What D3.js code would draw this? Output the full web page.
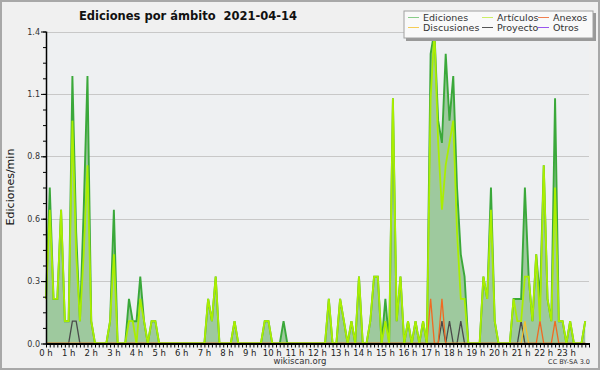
<!DOCTYPE html>
<html><head><meta charset="utf-8">
<script src="https://cdn.jsdelivr.net/npm/d3@7"></script>
<style>
body{margin:0;background:#f0f0f0}
svg{display:block}
text{font-family:"DejaVu Sans",sans-serif}
</style>
</head><body>
<svg id="c" width="600" height="370"></svg>
<script>
// ---- data (10-minute bins, 0:00 .. 23:50) ----
const chartTitle = "Ediciones por ámbito  2021-04-14";
const yTitle = "Ediciones/min";
const hourLabels = d3.range(24).map(h => h + " h");
const yTickValues = [0, 0.28, 0.56, 0.84, 1.12, 1.4];
const seriesNames = ["Ediciones", "Artículos", "Anexos", "Discusiones", "Proyecto", "Otros"];

const ediciones = [
  0.2,0.7,0.2,0.2,0.6,0.1,0.1,1.2,0.5,0.1,0.6,1.2,
  0.1,0,0,0,0,0.1,0.6,0,0,0,0.2,0.1,
  0.1,0.3,0.1,0,0.1,0.1,0,0,0,0,0,0,
  0,0,0,0,0,0,0,0.2,0.1,0.3,0,0,
  0,0,0.1,0,0,0,0,0,0,0,0.1,0.1,
  0,0,0,0.1,0,0,0,0,0,0,0,0,
  0,0,0,0.2,0,0,0.2,0.1,0,0.1,0,0.3,
  0,0,0.1,0.3,0.3,0,0.2,0,1.1,0.1,0.3,0,
  0.1,0,0.1,0,0.1,0,1.3,1.4,1.0,0.9,1.3,1.0,
  1.2,0.7,0.4,0.3,0,0,0,0,0.3,0.2,0.7,0.1,
  0,0,0,0,0.2,0.2,0.2,0.7,0.3,0.1,0.4,0.2,
  0.8,0.2,0.1,1.1,0.1,0.1,0,0.1,0,0,0,0.1
];
const articulos = [
  0.2,0.6,0.2,0.2,0.6,0.1,0.1,1.0,0.4,0.1,0.4,0.8,
  0.1,0,0,0,0,0.1,0.4,0,0,0,0.1,0.1,
  0,0.2,0.1,0,0.1,0.1,0,0,0,0,0,0,
  0,0,0,0,0,0,0,0.2,0.1,0.3,0,0,
  0,0,0.1,0,0,0,0,0,0,0,0.1,0.1,
  0,0,0,0,0,0,0,0,0,0,0,0,
  0,0,0,0.2,0,0,0.2,0.1,0,0.1,0,0.3,
  0,0,0.1,0.3,0.3,0,0.1,0,1.1,0.1,0.3,0,
  0.1,0,0.1,0,0.1,0,1.1,1.4,0.9,0.6,0.8,0.9,
  1.0,0.5,0.2,0.2,0,0,0,0,0.3,0.2,0.6,0.1,
  0,0,0,0,0.2,0.1,0.1,0.3,0.3,0.1,0.4,0.1,
  0.8,0.2,0.1,0.7,0.1,0.1,0,0.1,0,0,0,0.1
];
const anexos = [
  0,0,0,0,0,0,0,0,0,0,0,0,  0,0,0,0,0,0,0,0,0,0,0,0,
  0,0,0,0,0,0,0,0,0,0,0,0,  0,0,0,0,0,0,0,0,0,0,0,0,
  0,0,0,0,0,0,0,0,0,0,0,0,  0,0,0,0,0,0,0,0,0,0,0,0,
  0,0,0,0,0,0,0,0,0,0,0,0,  0,0,0,0,0,0,0,0,0,0,0,0,
  0,0,0,0,0,0,0.2,0,0,0.2,0,0,  0,0,0,0,0,0,0,0,0,0,0,0,
  0,0,0,0,0,0,0,0,0,0,0,0.1,  0,0,0,0.1,0,0,0,0,0,0,0,0
];
const discusiones = [
  0,0,0,0,0,0,0,0,0,0,0,0,  0,0,0,0,0,0,0,0,0,0,0,0,
  0,0,0,0,0,0,0,0,0,0,0,0,  0,0,0,0,0,0,0,0,0,0,0,0,
  0,0,0,0,0,0,0,0,0,0,0,0,  0,0,0,0,0,0,0,0,0,0,0,0,
  0,0,0,0,0,0,0,0,0,0,0,0,  0,0,0,0,0,0,0,0,0,0,0,0,
  0,0,0,0,0,0,0,0,0,0,0,0,  0,0,0,0,0,0,0,0,0,0,0,0,
  0,0,0,0,0,0,0,0.1,0,0,0,0,  0,0,0,0,0,0,0,0,0,0,0,0
];
const proyecto = [
  0,0,0,0,0,0,0,0.1,0.1,0,0,0,  0,0,0,0,0,0,0,0,0,0,0,0,
  0,0,0,0,0,0,0,0,0,0,0,0,  0,0,0,0,0,0,0,0,0,0,0,0,
  0,0,0,0,0,0,0,0,0,0,0,0,  0,0,0,0,0,0,0,0,0,0,0,0,
  0,0,0,0,0,0,0,0,0,0,0,0,  0,0,0,0,0,0,0,0,0,0,0,0,
  0,0,0,0,0,0,0,0,0,0.1,0,0.1,  0,0,0.1,0,0,0,0,0,0,0,0,0,
  0,0,0,0,0,0,0.1,0,0,0,0,0,  0,0,0,0,0,0,0,0,0,0,0,0
];
const otros = d3.range(144).map(() => 0);

// ---- styles ----
const colors = {
  Ediciones: "#3aa83a", "Artículos": "#aaee00", Anexos: "#f06a22",
  Discusiones: "#f2c230", Proyecto: "#4a4a4a", Otros: "#8a44e8"
};
const legendColors = {
  Ediciones: "#88cc88", "Artículos": "#ccee66", Anexos: "#f08050",
  Discusiones: "#f5cc55", Proyecto: "#555555", Otros: "#9955ee"
};

const svg = d3.select("#c");
const W = 600, H = 370;
const x0 = 46, x1 = 589, yTop = 31.5, yBot = 343.5;

svg.append("rect").attr("x",1).attr("y",1).attr("width",W-2).attr("height",H-2)
  .attr("fill","#f0f0f0").attr("stroke","#a8a8a8").attr("stroke-width",2);

const x = d3.scaleLinear().domain([0, 24]).range([x0, x1]);
const y = d3.scaleLinear().domain([0, 1.4]).range([yBot, yTop]);
const tx = i => x(i / 6);

// plot area
svg.append("rect").attr("x",x0).attr("y",yTop).attr("width",x1-x0).attr("height",yBot-yTop)
  .attr("fill","#eef0f2");

// grid
svg.append("g").selectAll("line").data(yTickValues.slice(1)).join("line")
  .attr("x1",x0).attr("x2",x1).attr("y1",d=>Math.round(y(d))+0.5).attr("y2",d=>Math.round(y(d))+0.5)
  .attr("stroke","#c8c8c8").attr("stroke-width",1);

// area
const area = d3.area().x((d,i)=>tx(i)).y0(y(0)).y1(d=>y(d));
svg.append("path").datum(ediciones).attr("d",area).attr("fill","#9ec99e");

const line = d3.line().x((d,i)=>tx(i)).y(d=>y(d));
const drawOrder = [
  ["Ediciones", ediciones, 1.9],
  ["Otros", otros, 1],
  ["Proyecto", proyecto, 1.3],
  ["Discusiones", discusiones, 1.3],
  ["Anexos", anexos, 1.3],
  ["Artículos", articulos, 1.8]
];
drawOrder.forEach(([name, vals, w]) => {
  svg.append("path").datum(vals).attr("d", line).attr("fill","none")
    .attr("stroke", colors[name]).attr("stroke-width", w).attr("stroke-linejoin","miter");
});

// y axis
const yMinor = d3.range(0, 1.4001, 0.07);
const gy = svg.append("g").attr("transform",`translate(${x0},0)`);
gy.call(d3.axisLeft(y).tickValues(yMinor).tickSize(3).tickFormat(""));
gy.call(g=>g.select(".domain").remove());
const gy2 = svg.append("g").attr("transform",`translate(${x0},0)`);
gy2.call(d3.axisLeft(y).tickValues(yTickValues).tickSize(5).tickPadding(1).tickFormat(d3.format(".1f")));
gy2.select(".domain").remove();
svg.selectAll("g.tick line").attr("stroke","#000");
gy2.selectAll("text").attr("font-size",8).attr("fill","#333").attr("font-family","DejaVu Sans");
svg.append("line").attr("x1",x0+0.5).attr("x2",x0+0.5).attr("y1",yTop).attr("y2",yBot+1)
  .attr("stroke","#000").attr("stroke-width",1.5);

// x axis
const gx = svg.append("g").attr("transform",`translate(0,${yBot})`);
gx.call(d3.axisBottom(x).tickValues(d3.range(0,145).map(k=>k/6)).tickSize(4).tickFormat(""));
gx.select(".domain").remove();
gx.selectAll("line").attr("stroke","#000");
svg.append("g").selectAll("text").data(hourLabels).join("text")
  .attr("x",(d,i)=>x(i)).attr("y",yBot+12).attr("text-anchor","middle")
  .attr("font-size",8.5).attr("fill","#222").text(d=>d);
svg.append("line").attr("x1",x0).attr("x2",x1+1).attr("y1",yBot+0.5).attr("y2",yBot+0.5)
  .attr("stroke","#000").attr("stroke-width",2);

// titles
svg.append("text").attr("x",188).attr("y",20).attr("text-anchor","middle")
  .attr("font-size",11.5).attr("font-weight","bold").attr("fill","#111")
  .style("white-space","pre").attr("xml:space","preserve").text(chartTitle);
svg.append("text").attr("transform","translate(14,187) rotate(-90)").attr("text-anchor","middle")
  .attr("font-family","DejaVu Sans Mono").attr("font-size",11).attr("fill","#111").text(yTitle);
svg.append("text").attr("x",300).attr("y",364).attr("text-anchor","middle")
  .attr("font-size",8.5).attr("fill","#333").text("wikiscan.org");
svg.append("text").attr("x",590).attr("y",364).attr("text-anchor","end")
  .attr("font-size",6.5).attr("fill","#333").text("CC BY-SA 3.0");

// legend
const lg = svg.append("g");
lg.append("rect").attr("x",406).attr("y",13).attr("width",190).attr("height",28).attr("fill","#999");
lg.append("rect").attr("x",404).attr("y",11).attr("width",189).attr("height",27)
  .attr("fill","#f9f9f9").attr("stroke","#a0a0a0").attr("stroke-width",1);
const legPos = [[408,21],[482,21],[538,21],[408,31],[482,31],[538,31]];
seriesNames.forEach((n,i)=>{
  const [lx,ly] = legPos[i];
  lg.append("line").attr("x1",lx).attr("x2",lx+11).attr("y1",ly-3.5).attr("y2",ly-3.5)
    .attr("stroke",legendColors[n]).attr("stroke-width",1);
  lg.append("text").attr("x",lx+15).attr("y",ly).attr("font-size",9.5).attr("fill","#333").text(n);
});
</script>
</body></html>
